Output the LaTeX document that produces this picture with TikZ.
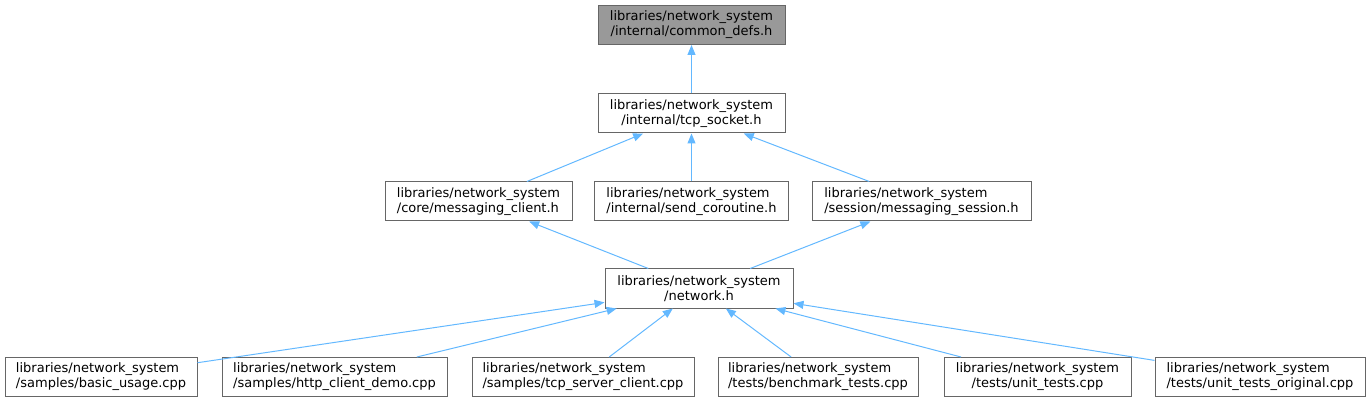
\documentclass[tikz,border=0pt]{standalone}
\usepackage{fontspec}
\setmainfont{DejaVu Sans}
\usetikzlibrary{arrows.meta}
\definecolor{boxborder}{HTML}{666666}
\definecolor{focusfill}{HTML}{999999}
\definecolor{edgecol}{HTML}{63B8FF}
\tikzset{
  filebox/.style={draw=boxborder, fill=white, line width=1pt, minimum height=39pt,
    inner sep=0pt, font=\fontsize{13}{15}\selectfont},
  lbox/.style={filebox, align=left},
  cbox/.style={filebox, align=center},
  focusbox/.style={cbox, fill=focusfill},
  dep/.style={draw=edgecol, line width=1pt, -{Triangle[length=10pt,width=8pt]}}
}
\begin{document}
\begin{tikzpicture}[x=1pt,y=-1pt]
\useasboundingbox (0,0) rectangle (1370,403);
\node[focusbox, minimum width=187pt] (cd) at (691.5,25) {libraries/network\_system\\/internal/common\_defs.h};
\node[cbox, minimum width=187pt] (ts) at (691.5,113.5) {libraries/network\_system\\/internal/tcp\_socket.h};
\node[lbox, minimum width=187pt] (mc) at (478.5,201.5) {libraries/network\_system\\/core/messaging\_client.h};
\node[lbox, minimum width=194pt] (sc) at (691.5,201.5) {libraries/network\_system\\/internal/send\_coroutine.h};
\node[lbox, minimum width=219pt] (ms) at (921.5,201.5) {libraries/network\_system\\/session/messaging\_session.h};
\node[cbox, minimum width=188pt] (nw) at (699,288.5) {libraries/network\_system\\/network.h};
\node[lbox, minimum width=192pt] (bu) at (101,377) {libraries/network\_system\\/samples/basic\_usage.cpp};
\node[lbox, minimum width=225pt] (hc) at (334.5,377) {libraries/network\_system\\/samples/http\_client\_demo.cpp};
\node[lbox, minimum width=222pt] (tsc) at (583,377) {libraries/network\_system\\/samples/tcp\_server\_client.cpp};
\node[lbox, minimum width=200pt] (bt) at (818,377) {libraries/network\_system\\/tests/benchmark\_tests.cpp};
\node[cbox, minimum width=187pt] (ut) at (1037.5,377) {libraries/network\_system\\/tests/unit\_tests.cpp};
\node[lbox, minimum width=210pt] (uto) at (1260,377) {libraries/network\_system\\/tests/unit\_tests\_original.cpp};
\draw[dep] (ts) -- (cd);
\draw[dep] (mc) -- (ts);
\draw[dep] (sc) -- (ts);
\draw[dep] (ms) -- (ts);
\draw[dep] (nw) -- (mc);
\draw[dep] (nw) -- (ms);
\draw[dep] (bu) -- (nw);
\draw[dep] (hc) -- (nw);
\draw[dep] (tsc) -- (nw);
\draw[dep] (bt) -- (nw);
\draw[dep] (ut) -- (nw);
\draw[dep] (uto) -- (nw);
\end{tikzpicture}
\end{document}
